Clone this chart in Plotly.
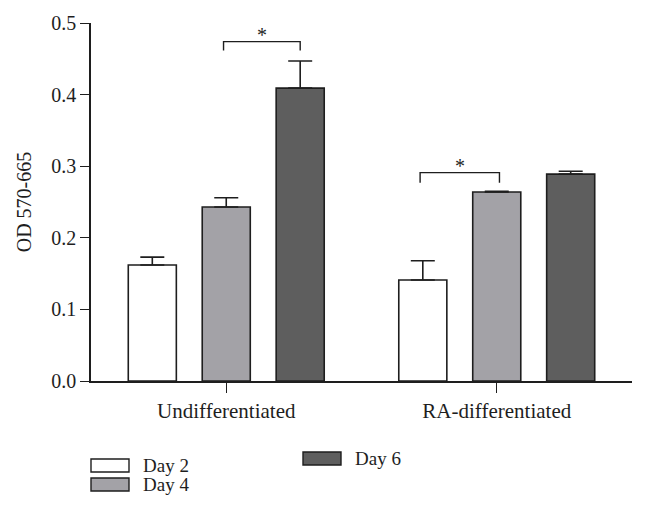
import plotly.graph_objects as go

# values
groups = ["Undifferentiated", "RA-differentiated"]
day_names = ["Day 2", "Day 4", "Day 6"]
day2 = [0.162, 0.141]
day4 = [0.243, 0.264]
day6 = [0.409, 0.289]
day2_err = [0.011, 0.027]
day4_err = [0.013, 0.001]
day6_err = [0.038, 0.004]
y_ticks = [0.0, 0.1, 0.2, 0.3, 0.4, 0.5]

colors = ["#ffffff", "#a3a2a7", "#5e5e5e"]
font = "Liberation Serif"
ink = "#1e1e1e"

bargap = 0.18
slot = (1 - bargap) / 3

fig = go.Figure()
for name, vals, errs, col in zip(day_names, [day2, day4, day6],
                                 [day2_err, day4_err, day6_err], colors):
    fig.add_trace(go.Bar(
        x=groups, y=vals, name=name,
        marker=dict(color=col, line=dict(color=ink, width=1.6)),
        error_y=dict(type="data", array=errs, arrayminus=[0] * len(errs),
                     symmetric=False, color=ink, thickness=1.6, width=12),
        showlegend=False,
    ))

# significance brackets (Day 4 vs Day 6 undiff, Day 2 vs Day 4 RA)
brackets = [(0, -0.01, slot, 0.474, 0.4615), (1, -slot - 0.01, 0.01, 0.291, 0.277)]
for gi, o1, o2, ytop, ybot in brackets:
    x1, x2 = gi + o1, gi + o2
    fig.add_shape(type="path", xref="x", yref="y",
                  path=f"M {x1} {ybot} L {x1} {ytop} L {x2} {ytop} L {x2} {ybot}",
                  line=dict(color=ink, width=1.4))
    fig.add_annotation(x=(x1 + x2) / 2, y=ytop, text="*", showarrow=False,
                       xref="x", yref="y", yanchor="bottom", yshift=-6,
                       font=dict(family=font, size=20, color=ink))

# legend drawn by hand; positions in page pixels, converted to paper units
legend_items = [
    (day_names[0], colors[0], 91, 459),
    (day_names[1], colors[1], 91, 478),
    (day_names[2], colors[2], 303, 452),
]
x0p, wp = 91.0, 541.0
y0p, hp = 381.0, 358.0
for name, col, px, py in legend_items:
    fig.add_shape(type="rect", xref="paper", yref="paper",
                  x0=(px - x0p) / wp, x1=(px + 38 - x0p) / wp,
                  y0=(y0p - py) / hp, y1=(y0p - py - 13) / hp,
                  fillcolor=col, line=dict(color=ink, width=1.4))
    fig.add_annotation(xref="paper", yref="paper",
                       x=(px + 50 - x0p) / wp, y=(y0p - py - 6.5) / hp,
                       text=name, showarrow=False, xanchor="left", yanchor="middle",
                       font=dict(family=font, size=19, color=ink))

# page body has an 8px margin, so the figure is sized to fit inside the window
fig.update_layout(
    width=630, height=493,
    margin=dict(l=83, r=6, t=15, b=120),
    paper_bgcolor="white", plot_bgcolor="white",
    barmode="group", bargap=bargap, bargroupgap=0.35,
    font=dict(family=font, size=20, color=ink),
)
fig.update_xaxes(
    range=[-0.5, 1.5], showline=True, linecolor=ink, linewidth=1.6,
    ticks="outside", ticklen=10, tickwidth=1.4, tickcolor=ink,
    showgrid=False, zeroline=False, automargin=False,
    tickfont=dict(family=font, size=21, color=ink),
)
fig.update_yaxes(
    range=[0, 0.5], tickvals=y_ticks, tickformat=".1f",
    showline=True, linecolor=ink, linewidth=1.6,
    ticks="outside", ticklen=9, tickwidth=1.4, tickcolor=ink,
    showgrid=False, zeroline=False, automargin=False,
    title=dict(text="OD 570-665", standoff=14, font=dict(family=font, size=20, color=ink)),
    tickfont=dict(family=font, size=20, color=ink),
)

fig.write_html("out.html")
